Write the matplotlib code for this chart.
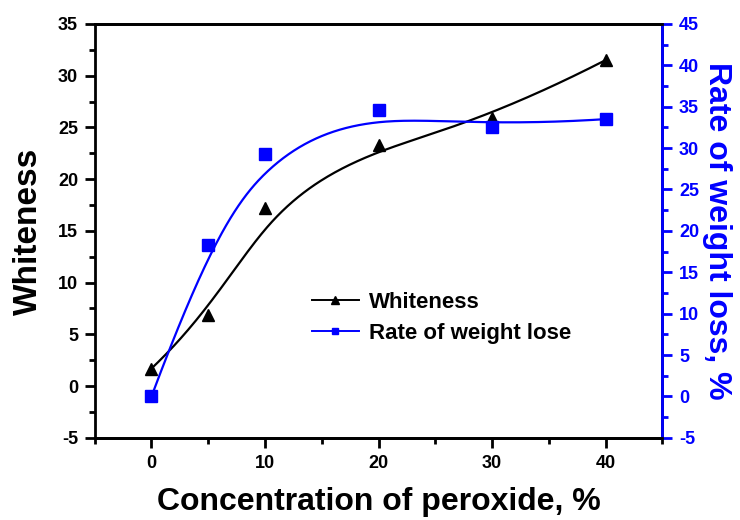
import numpy as np
import matplotlib
matplotlib.use("Agg")
import matplotlib.pyplot as plt
from matplotlib.ticker import MultipleLocator

plt.rcParams['font.family'] = ['Liberation Sans', 'DejaVu Sans']
plt.rcParams['font.weight'] = 'bold'
plt.rcParams['axes.unicode_minus'] = False

# datos
conc = [0, 5, 10, 20, 30, 40]
whiteness = [1.7, 6.9, 17.2, 23.3, 25.9, 31.5]
weight_loss = [0.0, 18.3, 29.3, 34.6, 32.6, 33.5]


def bspline(xs, ys, n=300):
    # B-spline cubica sujeta usando los datos como puntos de control
    P = np.column_stack([xs, ys]).astype(float)
    k = 3
    m = len(P)
    inner = np.linspace(0, 1, m - k + 1)
    t = np.concatenate([[0] * k, inner, [1] * k])
    u = np.linspace(0, 1, n)
    u[-1] = 1 - 1e-12
    N = np.zeros((n, len(t) - 1))
    for i in range(len(t) - 1):
        N[:, i] = ((u >= t[i]) & (u < t[i + 1])).astype(float)
    for d in range(1, k + 1):
        Nn = np.zeros((n, len(t) - 1 - d))
        for i in range(len(t) - 1 - d):
            a = 0.0
            b = 0.0
            if t[i + d] != t[i]:
                a = (u - t[i]) / (t[i + d] - t[i]) * N[:, i]
            if t[i + d + 1] != t[i + 1]:
                b = (t[i + d + 1] - u) / (t[i + d + 1] - t[i + 1]) * N[:, i + 1]
            Nn[:, i] = a + b
        N = Nn
    C = N @ P
    return C[:, 0], C[:, 1]


fig = plt.figure(figsize=(7.4, 5.2), dpi=100)
ax = fig.add_axes([0.128, 0.158, 0.767, 0.796])
ax2 = ax.twinx()

bx, by = bspline(conc, whiteness)
ax.plot(bx, by, color='black', lw=1.6)
ax.plot(conc, whiteness, ls='none', marker='^', ms=9, color='black')

rx, ry = bspline(conc, weight_loss)
ax2.plot(rx, ry, color='blue', lw=1.6)
ax2.plot(conc, weight_loss, ls='none', marker='s', ms=8, color='blue')

ax.set_xlim(-5, 45)
ax.set_ylim(-5, 35)
ax2.set_ylim(-5, 45)

ax.xaxis.set_major_locator(MultipleLocator(10))
ax.xaxis.set_minor_locator(MultipleLocator(5))
ax.yaxis.set_major_locator(MultipleLocator(5))
ax.yaxis.set_minor_locator(MultipleLocator(2.5))
ax2.yaxis.set_major_locator(MultipleLocator(5))
ax2.yaxis.set_minor_locator(MultipleLocator(2.5))

for a in (ax, ax2):
    for s in a.spines.values():
        s.set_linewidth(2)
ax2.spines['right'].set_color('blue')
ax2.spines['left'].set_visible(False)

ax.tick_params(axis='both', which='major', direction='out', length=7, width=2,
               labelsize=13, pad=5)
ax.tick_params(axis='both', which='minor', direction='out', length=4, width=2)
ax2.tick_params(axis='y', which='major', direction='out', length=7, width=2,
                labelsize=13, colors='blue', pad=5)
ax2.tick_params(axis='y', which='minor', direction='out', length=4, width=2,
                colors='blue')
for lab in ax.get_xticklabels() + ax.get_yticklabels() + ax2.get_yticklabels():
    lab.set_fontweight('bold')

ax.set_xlabel('Concentration of peroxide, %', fontsize=23, fontweight='bold',
              labelpad=11)
ax.set_ylabel('Whiteness', fontsize=24, fontweight='bold', labelpad=10)
ax2.set_ylabel('Rate of weight loss, %', fontsize=23, fontweight='bold',
               color='blue', rotation=-90, labelpad=24)

h1, = ax.plot([], [], color='black', marker='^', ms=6, lw=1.4, label='Whiteness')
h2, = ax.plot([], [], color='blue', marker='s', ms=5, lw=1.4,
              label='Rate of weight lose')
leg = ax.legend(handles=[h1, h2], loc='upper left', bbox_to_anchor=(0.383, 0.352),
                frameon=False, fontsize=16, handlelength=2.1, handletextpad=0.45,
                labelspacing=0.45, borderpad=0, borderaxespad=0)
for t in leg.get_texts():
    t.set_fontweight('bold')

fig.savefig('out.png', dpi=100)
